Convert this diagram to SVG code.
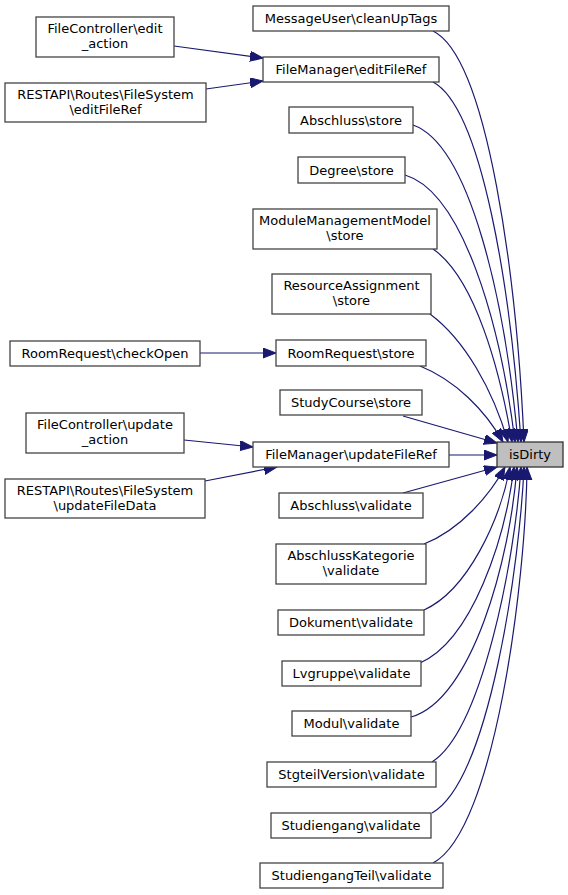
<svg xmlns="http://www.w3.org/2000/svg" width="568" height="895" viewBox="0 0 568 895">
<style>
.n rect{fill:#fff;stroke:#444;stroke-width:1.3}
.n text{font-family:"DejaVu Sans",sans-serif;font-size:13px;fill:#000;text-anchor:middle}
.hl rect{fill:#bfbfbf;stroke:#333}
.e path{fill:none;stroke:#191970;stroke-width:1.2;marker-end:url(#ah)}
</style>
<defs>
<marker id="ah" markerUnits="userSpaceOnUse" markerWidth="14" markerHeight="11" refX="13" refY="5" orient="auto">
<path d="M0,0 L13,5 L0,10 z" fill="#191970" stroke="#191970"/>
</marker>
</defs>
<rect width="568" height="895" fill="#fff"/>
<g class="e" id="edges">
<path d="M174,46 L263,58"/>
<path d="M206,89 L263,81"/>
<path d="M200,353 L276,353"/>
<path d="M184,440 L253,447"/>
<path d="M205,481 L277,467"/>
<path d="M433,31 C488,58 517,280 524,442"/>
<path d="M433,82 C482,108 511,290 521,442"/>
<path d="M413,125 C470,145 505,300 518,442"/>
<path d="M405,175 C462,192 500,320 515,442"/>
<path d="M433,249 C475,278 500,370 512,442"/>
<path d="M430,314 C465,340 493,390 508,442"/>
<path d="M420,366 C455,380 485,410 503,442"/>
<path d="M403,416 L497,443"/>
<path d="M449,455 L497,455"/>
<path d="M403,493 L497,467"/>
<path d="M424,544 C460,530 490,495 505,467"/>
<path d="M424,610 C468,590 500,520 510,467"/>
<path d="M420,663 C472,640 505,540 514,467"/>
<path d="M411,717 C472,700 510,560 517,467"/>
<path d="M432,762 C482,730 515,560 521,467"/>
<path d="M432,813 C490,780 520,560 524,467"/>
<path d="M433,863 C495,830 526,580 527,467"/>
</g>
<g class="n hl" id="isDirty"><rect x="497" y="442" width="66" height="25"/><text x="530" y="459">isDirty</text></g>
<g class="n" id="cleanUpTags"><rect x="253" y="6" width="196" height="25"/><text x="351" y="23">MessageUser\cleanUpTags</text></g>
<g class="n" id="editFileRef"><rect x="263" y="57" width="176" height="25"/><text x="351" y="74">FileManager\editFileRef</text></g>
<g class="n" id="abschlussStore"><rect x="289" y="107" width="124" height="26"/><text x="351" y="124.5">Abschluss\store</text></g>
<g class="n" id="degreeStore"><rect x="298" y="157" width="107" height="26"/><text x="351.5" y="174.5">Degree\store</text></g>
<g class="n" id="mmmStore"><rect x="253" y="209" width="184" height="40"/><text x="345" y="225">ModuleManagementModel</text><text x="345" y="240">\store</text></g>
<g class="n" id="raStore"><rect x="272" y="274" width="159" height="40"/><text x="351.5" y="290">ResourceAssignment</text><text x="351.5" y="305">\store</text></g>
<g class="n" id="rrStore"><rect x="276" y="340" width="150" height="26"/><text x="351" y="357.5">RoomRequest\store</text></g>
<g class="n" id="scStore"><rect x="280" y="390" width="142" height="25"/><text x="351" y="407">StudyCourse\store</text></g>
<g class="n" id="updateFileRef"><rect x="253" y="442" width="196" height="25"/><text x="351" y="459">FileManager\updateFileRef</text></g>
<g class="n" id="abschlussValidate"><rect x="279" y="493" width="144" height="25"/><text x="351" y="510">Abschluss\validate</text></g>
<g class="n" id="akValidate"><rect x="276" y="544" width="150" height="40"/><text x="351" y="560">AbschlussKategorie</text><text x="351" y="575">\validate</text></g>
<g class="n" id="dokValidate"><rect x="278" y="610" width="146" height="25"/><text x="351" y="627">Dokument\validate</text></g>
<g class="n" id="lvgValidate"><rect x="282" y="661" width="139" height="25"/><text x="351.5" y="678">Lvgruppe\validate</text></g>
<g class="n" id="modulValidate"><rect x="292" y="711" width="119" height="25"/><text x="351.5" y="728">Modul\validate</text></g>
<g class="n" id="svValidate"><rect x="267" y="762" width="169" height="25"/><text x="351.5" y="779">StgteilVersion\validate</text></g>
<g class="n" id="sgValidate"><rect x="271" y="813" width="160" height="25"/><text x="351" y="830">Studiengang\validate</text></g>
<g class="n" id="sgtValidate"><rect x="260" y="863" width="183" height="25"/><text x="351.5" y="880">StudiengangTeil\validate</text></g>
<g class="n" id="fcEdit"><rect x="36" y="17" width="138" height="40"/><text x="105" y="33">FileController\edit</text><text x="105" y="48">_action</text></g>
<g class="n" id="restEdit"><rect x="5" y="83" width="201" height="39"/><text x="105.5" y="99">RESTAPI\Routes\FileSystem</text><text x="105.5" y="114">\editFileRef</text></g>
<g class="n" id="checkOpen"><rect x="10" y="341" width="190" height="25"/><text x="105" y="358">RoomRequest\checkOpen</text></g>
<g class="n" id="fcUpdate"><rect x="26" y="413" width="158" height="40"/><text x="105" y="429">FileController\update</text><text x="105" y="444">_action</text></g>
<g class="n" id="restUpdate"><rect x="5" y="479" width="200" height="39"/><text x="105" y="495">RESTAPI\Routes\FileSystem</text><text x="105" y="510">\updateFileData</text></g>
</svg>
